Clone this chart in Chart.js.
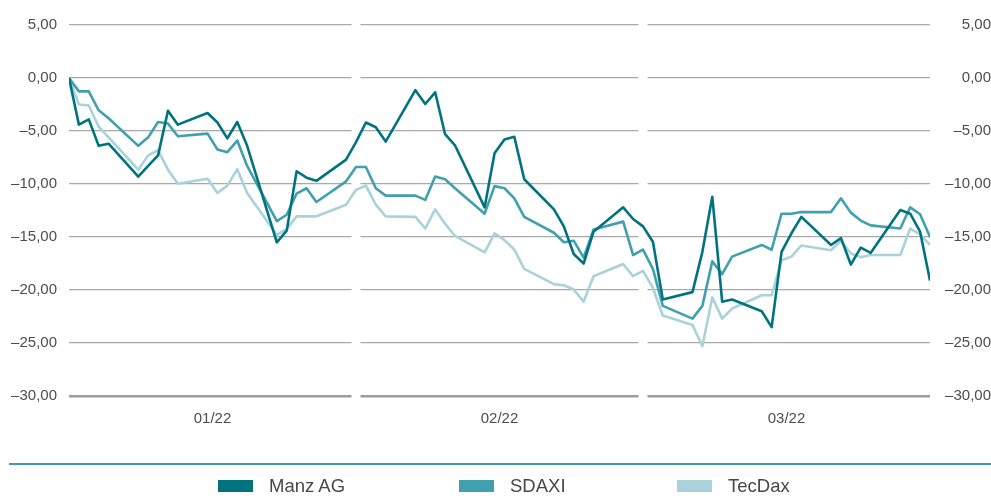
<!DOCTYPE html>
<html>
<head>
<meta charset="utf-8">
<script src="https://cdn.jsdelivr.net/npm/chart.js@4/dist/chart.umd.min.js"></script>
<style>
  html, body { margin: 0; padding: 0; background: #fff; }
  #wrap { position: relative; width: 991px; height: 496px; overflow: hidden; font-family: "Liberation Sans", Arial, sans-serif; }
  #c { position: absolute; left: 0; top: 0; }
  #sep { position: absolute; left: 9px; top: 463px; width: 982px; height: 2px; background: #3e9ca9; }
  .lg { position: absolute; top: 474px; height: 24px; display: flex; align-items: center; font-size: 18.5px; color: #474747; }
  .lg .box { width: 35px; height: 12px; margin-right: 16px; }
</style>
</head>
<body>
<div id="wrap">
  <canvas id="c" width="991" height="496"></canvas>
  <div id="sep"></div>
  <div id="legend"></div>
</div>
<script>
// ---- data ----
const dates = [
  '2022-01-03','2022-01-04','2022-01-05','2022-01-06','2022-01-07',
  '2022-01-10','2022-01-11','2022-01-12','2022-01-13','2022-01-14',
  '2022-01-17','2022-01-18','2022-01-19','2022-01-20','2022-01-21',
  '2022-01-24','2022-01-25','2022-01-26','2022-01-27','2022-01-28',
  '2022-01-31','2022-02-01','2022-02-02','2022-02-03','2022-02-04',
  '2022-02-07','2022-02-08','2022-02-09','2022-02-10','2022-02-11',
  '2022-02-14','2022-02-15','2022-02-16','2022-02-17','2022-02-18',
  '2022-02-21','2022-02-22','2022-02-23','2022-02-24','2022-02-25',
  '2022-02-28','2022-03-01','2022-03-02','2022-03-03','2022-03-04',
  '2022-03-07','2022-03-08','2022-03-09','2022-03-10','2022-03-11',
  '2022-03-14','2022-03-15','2022-03-16','2022-03-17','2022-03-18',
  '2022-03-21','2022-03-22','2022-03-23','2022-03-24','2022-03-25',
  '2022-03-28','2022-03-29','2022-03-30','2022-03-31'
];
const manzAG = [
  0, -4.4, -3.9, -6.4, -6.2,
  -9.3, -8.3, -7.3, -3.1, -4.4,
  -3.3, -4.2, -5.7, -4.15, -6.4,
  -15.5, -14.4, -8.8, -9.4, -9.7,
  -7.7, -6.05, -4.2, -4.65, -6.0,
  -1.15, -2.45, -1.35, -5.3, -6.35,
  -12.2, -7.1, -5.8, -5.55, -9.55,
  -12.4, -14.0, -16.6, -17.5, -14.5,
  -12.2, -13.3, -14.0, -15.45, -20.9,
  -20.2, -16.4, -11.2, -21.1, -20.9,
  -22.0, -23.5, -16.4, -14.65, -13.1,
  -15.75, -15.1, -17.6, -16.0, -16.5,
  -12.45, -12.8, -14.5, -19.1
];
const sdaxi = [
  0, -1.26, -1.26, -3.05, -3.8,
  -6.4, -5.6, -4.15, -4.3, -5.5,
  -5.25, -6.75, -7.0, -5.9, -8.3,
  -13.5, -12.9, -10.9, -10.4, -11.7,
  -9.75, -8.4, -8.4, -10.4, -11.1,
  -11.1, -11.5, -9.3, -9.55, -10.4,
  -12.8, -10.2, -10.4, -11.35, -13.1,
  -14.6, -15.5, -15.35, -16.95, -14.3,
  -13.55, -16.7, -16.2, -18.0, -21.5,
  -22.7, -21.5, -17.3, -18.5, -16.85,
  -15.75, -16.2, -12.8, -12.8, -12.65,
  -12.65, -11.35, -12.7, -13.45, -13.9,
  -14.2, -12.2, -12.85, -15.0
];
const tecDax = [
  0, -2.5, -2.6, -4.6, -5.6,
  -8.65, -7.3, -6.8, -8.65, -9.97,
  -9.5, -10.85, -10.15, -8.6, -10.85,
  -14.8, -14.25, -13.05, -13.05, -13.05,
  -11.95, -10.55, -10.15, -11.95, -13.05,
  -13.1, -14.2, -12.4, -13.75, -14.9,
  -16.45, -14.65, -15.3, -16.2, -18.0,
  -19.45, -19.55, -19.95, -21.1, -18.7,
  -17.55, -18.7, -18.2, -19.8, -22.4,
  -23.3, -25.3, -20.7, -22.7, -21.75,
  -20.5, -20.5, -17.2, -16.85, -15.8,
  -16.25, -15.35, -16.55, -16.9, -16.7,
  -16.7, -14.2, -14.75, -15.75
];
const monthLabels = ['01/22', '02/22', '03/22'];
const seriesNames = ['Manz AG', 'SDAXI', 'TecDax'];
const seriesColors = ['#00737f', '#41a0ae', '#a9d2db'];
const yTicks = [5, 0, -5, -10, -15, -20, -25, -30];

// ---- helpers ----
function dayOfYear(s) {
  const d = new Date(s + 'T00:00:00Z');
  return Math.round((d - Date.UTC(d.getUTCFullYear(), 0, 1)) / 86400000) + 1;
}
const xs = dates.map(dayOfYear);
function toPoints(arr) { return arr.map((v, i) => ({ x: xs[i], y: v })); }
function fmt(v) {
  const s = Math.abs(v).toFixed(2).replace('.', ',');
  return (v < 0 ? '\u2013' : '') + s;
}

// gaps in horizontal grid lines at the month boundaries
const gridGaps = {
  id: 'gridGaps',
  beforeDatasetsDraw(chart) {
    const { ctx, chartArea } = chart;
    const w = chartArea.right - chartArea.left;
    ctx.save();
    ctx.fillStyle = '#ffffff';
    for (let k = 1; k < monthLabels.length; k++) {
      const bx = chartArea.left + w * k / monthLabels.length;
      ctx.fillRect(bx - 4.5, chartArea.top - 4, 9, chartArea.bottom - chartArea.top + 8);
    }
    ctx.restore();
  }
};

const tickFont = { family: '"Liberation Sans", Arial, sans-serif', size: 15 };
const tickColor = '#4d4d4d';

new Chart(document.getElementById('c'), {
  type: 'line',
  data: {
    datasets: [manzAG, sdaxi, tecDax].map((arr, i) => ({
      label: seriesNames[i],
      data: toPoints(arr),
      borderColor: seriesColors[i],
      backgroundColor: seriesColors[i],
      borderWidth: 2.6,
      borderJoinStyle: 'round',
      pointRadius: 0,
      tension: 0,
      fill: false,
      xAxisID: 'x',
      yAxisID: 'y'
    }))
  },
  options: {
    responsive: false,
    animation: false,
    devicePixelRatio: 1,
    layout: { padding: { top: 25, bottom: 60, left: 0, right: 0 } },
    plugins: { legend: { display: false }, tooltip: { enabled: false } },
    scales: {
      x: {
        type: 'linear', display: false,
        min: xs[0], max: xs[xs.length - 1]
      },
      xc: {
        type: 'category', position: 'bottom', labels: monthLabels, offset: true,
        grid: { display: false, drawTicks: false },
        border: { display: false },
        ticks: { font: tickFont, color: tickColor, padding: 14, maxRotation: 0 },
        afterFit(s) { s.height = 40; }
      },
      y: {
        position: 'left', min: -30, max: 5,
        afterBuildTicks(s) { s.ticks = yTicks.map(v => ({ value: v })); },
        ticks: { font: tickFont, color: tickColor, padding: 12, callback: v => fmt(v) },
        grid: {
          drawTicks: false,
          color: c => (c.tick && c.tick.value === -30) ? '#9c9c9c' : '#a9a9a9',
          lineWidth: c => (c.tick && c.tick.value === -30) ? 2.6 : 1.2
        },
        border: { display: false },
        afterFit(s) { s.width = 69; }
      },
      y2: {
        position: 'right', min: -30, max: 5,
        afterBuildTicks(s) { s.ticks = yTicks.map(v => ({ value: v })); },
        ticks: { font: tickFont, color: tickColor, padding: 9, crossAlign: 'far', callback: v => fmt(v) },
        grid: { display: false, drawTicks: false },
        border: { display: false },
        afterFit(s) { s.width = 61; }
      }
    }
  },
  plugins: [gridGaps]
});

// ---- legend ----
const legendX = [218, 459, 677];
const lg = document.getElementById('legend');
seriesNames.forEach((name, i) => {
  const item = document.createElement('div');
  item.className = 'lg';
  item.style.left = legendX[i] + 'px';
  const box = document.createElement('span');
  box.className = 'box';
  box.style.background = seriesColors[i];
  const t = document.createElement('span');
  t.textContent = name;
  item.appendChild(box); item.appendChild(t);
  lg.appendChild(item);
});
</script>
</body>
</html>
